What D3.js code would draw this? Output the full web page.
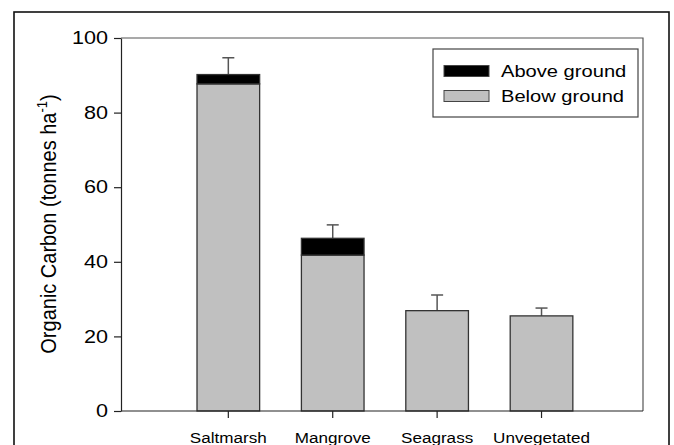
<!DOCTYPE html>
<html>
<head>
  <meta charset="utf-8">
  <title>Organic Carbon</title>
  <script src="https://cdn.jsdelivr.net/npm/d3@7"></script>
  <style>
    body { margin: 0; background: #fff; }
    text { font-family: Arial, "Liberation Sans", sans-serif; fill: #000; }
  </style>
</head>
<body>
  <script>
    // Chart data
    const categories = ["Saltmarsh", "Mangrove", "Seagrass", "Unvegetated"];
    const belowGround = [87.7, 41.8, 26.9, 25.5];
    const aboveGround = [2.5, 4.5, 0, 0];
    const errorUp = [4.5, 3.6, 4.2, 2.1];
    const yTicks = [0, 20, 40, 60, 80, 100];
    const seriesNames = ["Above ground", "Below ground"];

    const width = 674;
    const height = 445;
    const plot = { left: 121, right: 643, top: 38, bottom: 411 };
    const stretch = 1.2; // the source picture is a bit wider than tall

    const svg = d3.select('body').append('svg')
      .attr('width', width)
      .attr('height', height);

    // Outer frame (open at the bottom, runs past the picture)
    svg.append('rect')
      .attr('x', 14).attr('y', 12)
      .attr('width', 655).attr('height', 460)
      .attr('fill', 'none')
      .attr('stroke', '#111')
      .attr('stroke-width', 1.6);

    // Scales
    const x = d3.scaleBand()
      .domain(categories)
      .range([plot.left, plot.right])
      .paddingInner(0.4)
      .paddingOuter(0.7)
      .align(0.52);

    const y = d3.scaleLinear()
      .domain([0, 100])
      .range([plot.bottom, plot.top]);

    // Stack the two parts
    const rows = categories.map((c, i) => ({
      cat: c, below: belowGround[i], above: aboveGround[i]
    }));
    const stacked = d3.stack().keys(['below', 'above'])(rows);
    const fills = { below: '#c0c0c0', above: '#000' };

    // Error bars (upwards only), drawn under the bars
    const totals = rows.map(r => r.below + r.above);
    const err = svg.append('g')
      .attr('stroke', '#555')
      .attr('stroke-width', 1.5);
    categories.forEach((c, i) => {
      const cx = x(c) + x.bandwidth() / 2;
      err.append('line')
        .attr('x1', cx).attr('x2', cx)
        .attr('y1', y(totals[i])).attr('y2', y(totals[i] + errorUp[i]));
      err.append('line')
        .attr('x1', cx - 6).attr('x2', cx + 6)
        .attr('y1', y(totals[i] + errorUp[i])).attr('y2', y(totals[i] + errorUp[i]));
    });

    // Bars
    stacked.forEach(layer => {
      svg.append('g')
        .selectAll('rect')
        .data(layer.filter(d => d[1] > d[0]))
        .enter().append('rect')
        .attr('x', d => x(d.data.cat))
        .attr('y', d => y(d[1]))
        .attr('width', x.bandwidth())
        .attr('height', d => y(d[0]) - y(d[1]))
        .attr('fill', fills[layer.key])
        .attr('stroke', '#333')
        .attr('stroke-width', 1.3);
    });

    // Plot box: top and right edges
    svg.append('path')
      .attr('d', `M${plot.left},${plot.top}H${plot.right}V${plot.bottom}`)
      .attr('fill', 'none')
      .attr('stroke', '#555')
      .attr('stroke-width', 1.2);

    // Y axis
    const yAxis = svg.append('g')
      .attr('transform', `translate(${plot.left},0)`)
      .call(d3.axisLeft(y).tickValues(yTicks).tickSize(7).tickSizeOuter(0).tickPadding(6));
    yAxis.selectAll('path, line').attr('stroke', '#222').attr('stroke-width', 1.2);
    yAxis.selectAll('text')
      .attr('font-size', 18)
      .attr('font-family', 'Arial, "Liberation Sans", sans-serif')
      .attr('x', -13 / stretch)
      .attr('transform', `scale(${stretch},1)`);

    // X axis
    const xAxis = svg.append('g')
      .attr('transform', `translate(0,${plot.bottom})`)
      .call(d3.axisBottom(x).tickSize(7).tickSizeOuter(0).tickPadding(14));
    xAxis.select('.domain')
      .attr('d', `M${plot.left},0H${plot.right}`);
    xAxis.selectAll('path, line').attr('stroke', '#222').attr('stroke-width', 1.2);
    xAxis.selectAll('text')
      .attr('font-size', 15)
      .attr('font-family', 'Arial, "Liberation Sans", sans-serif')
      .attr('transform', 'scale(1.14,1)');

    // Y axis title
    const yTitle = svg.append('text')
      .attr('transform', 'translate(56,224) rotate(-90) scale(1,1.1)')
      .attr('text-anchor', 'middle')
      .attr('font-size', 20);
    yTitle.append('tspan').text('Organic Carbon (tonnes ha');
    yTitle.append('tspan').attr('font-size', 13).attr('dy', -8).text('-1');
    yTitle.append('tspan').attr('dy', 8).text(')');

    // Legend
    const legend = svg.append('g');
    legend.append('rect')
      .attr('x', 433).attr('y', 49)
      .attr('width', 205).attr('height', 68)
      .attr('fill', '#fff')
      .attr('stroke', '#444')
      .attr('stroke-width', 1.2);
    const legendFills = [fills.above, fills.below];
    seriesNames.forEach((name, i) => {
      const yy = 71 + i * 25;
      legend.append('rect')
        .attr('x', 444).attr('y', yy - 5.5)
        .attr('width', 45).attr('height', 11)
        .attr('fill', legendFills[i])
        .attr('stroke', '#444')
        .attr('stroke-width', 1);
      legend.append('text')
        .attr('transform', `translate(501,${yy + 6}) scale(1.22,1)`)
        .attr('font-size', 16.5)
        .text(name);
    });
  </script>
</body>
</html>
